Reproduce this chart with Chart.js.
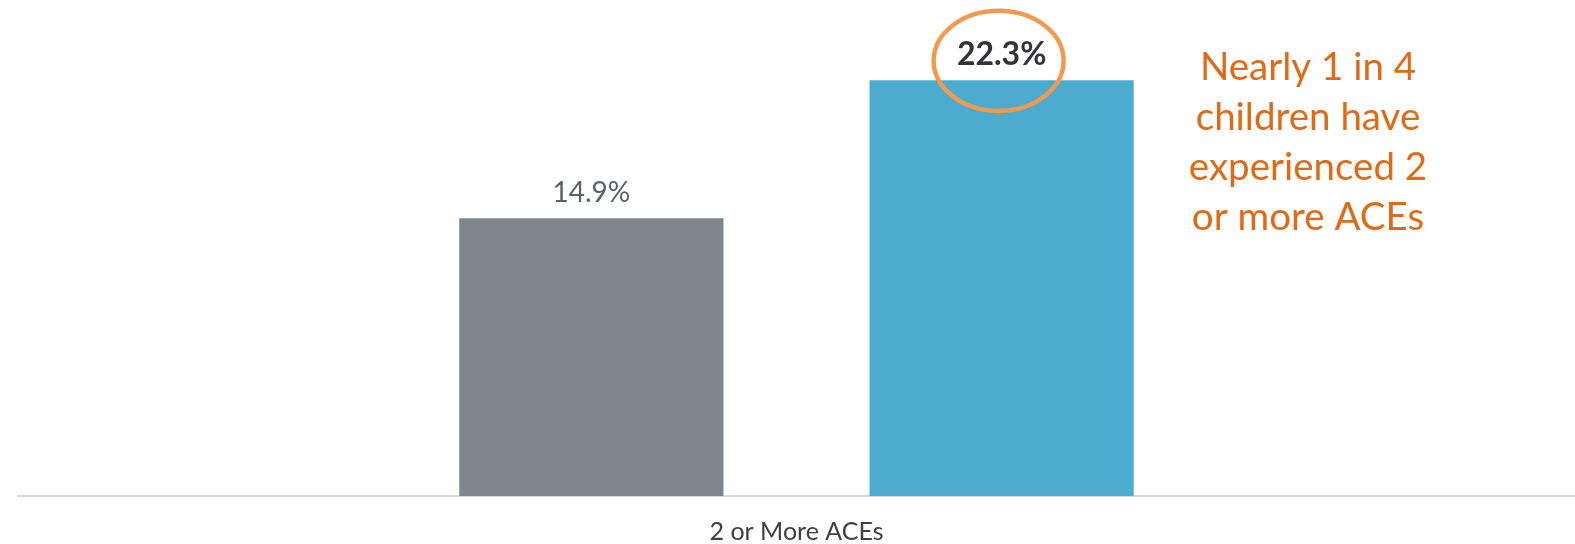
<!DOCTYPE html>
<html>
<head>
<meta charset="utf-8">
<script src="https://cdn.jsdelivr.net/npm/chart.js@4/dist/chart.umd.min.js"></script>
<style>
  html, body { margin: 0; padding: 0; background: #fff; }
  #wrap { width: 1575px; height: 544px; position: relative; }
</style>
</head>
<body>
<div id="wrap"><canvas id="aceChart" width="1575" height="544"></canvas></div>
<script>
// chart data
const categories = ['2 or More ACEs'];
const seriesNames = ['Comparison', 'Children'];
const comparisonValues = [14.9];
const childrenValues = [22.3];
const noteLines = ['Nearly 1 in 4', 'children have', 'experienced 2', 'or more ACEs'];

// value labels above bars + ring on the highlighted one + side note
const barLabels = {
    id: 'barLabels',
    afterDatasetsDraw(chart) {
        const ctx = chart.ctx;
        ctx.save();
        ctx.textAlign = 'center';
        ctx.textBaseline = 'middle';
        chart.data.datasets.forEach((ds, di) => {
            const meta = chart.getDatasetMeta(di);
            meta.data.forEach((bar, i) => {
                const txt = ds.data[i].toFixed(1) + '%';
                if (di === 1) {
                    ctx.font = 'bold 32px Lato';
                    ctx.fillStyle = '#333338';
                    ctx.fillText(txt, bar.x, bar.y - 26);
                    ctx.beginPath();
                    ctx.ellipse(bar.x - 3, bar.y - 19.5, 65, 50, 0, 0, Math.PI * 2);
                    ctx.lineWidth = 4.5;
                    ctx.strokeStyle = '#f39a4f';
                    ctx.stroke();
                } else {
                    ctx.font = '28px Lato';
                    ctx.fillStyle = '#5d6066';
                    ctx.fillText(txt, bar.x, bar.y - 25);
                }
            });
        });
        // side note
        ctx.font = '38.5px Lato';
        ctx.fillStyle = '#e06a16';
        noteLines.forEach((line, i) => {
            ctx.fillText(line, 1308, 68 + i * 50);
        });
        ctx.restore();
    }
};

function initChart() {
    const ctx = document.getElementById('aceChart').getContext('2d');
    new Chart(ctx, {
        type: 'bar',
        data: {
            labels: categories,
            datasets: [
                { label: seriesNames[0], data: comparisonValues, backgroundColor: '#80848c' },
                { label: seriesNames[1], data: childrenValues, backgroundColor: '#4bacd0' }
            ]
        },
        options: {
            responsive: false,
            animation: false,
            categoryPercentage: 0.527,
            barPercentage: 0.644,
            layout: { padding: { top: 30, left: 18, right: 0, bottom: -24 } },
            plugins: { legend: { display: false }, tooltip: { enabled: false } },
            scales: {
                x: {
                    grid: { display: false, drawTicks: false },
                    border: { display: true, color: '#dadada', width: 2 },
                    ticks: { color: '#404040', font: { family: 'Lato', size: 25 }, padding: 21 }
                },
                y: { display: false, min: 0, max: 25 }
            }
        },
        plugins: [barLabels]
    });
}

window.onload = initChart;
</script>
</body>
</html>
